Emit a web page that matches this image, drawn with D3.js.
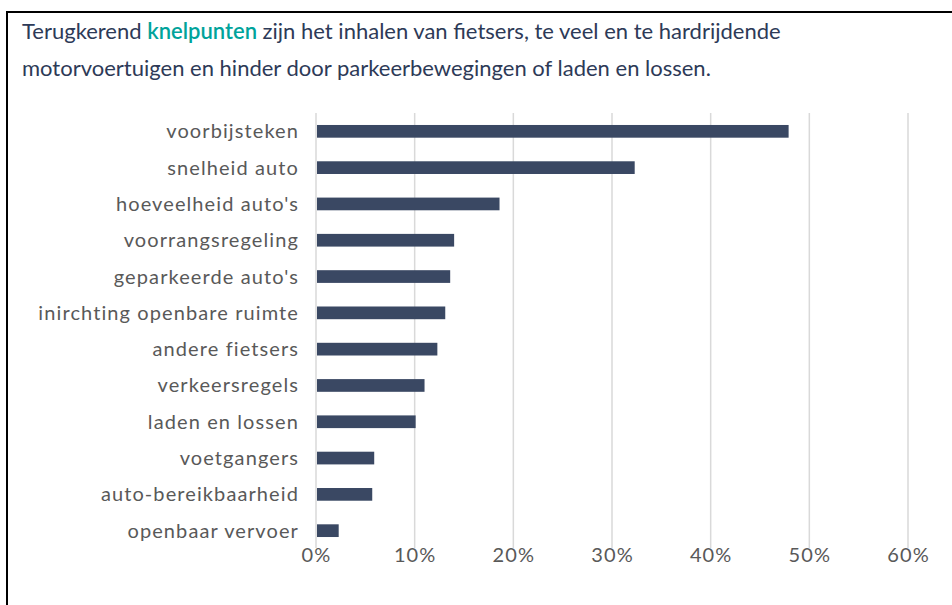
<!DOCTYPE html>
<html>
<head>
<meta charset="utf-8">
<script src="https://cdn.jsdelivr.net/npm/d3@7"></script>
<style>
  body { margin: 0; background: #fff; }
  svg { display: block; }
</style>
</head>
<body>
<svg id="chart" width="952" height="605"></svg>
<script>
const categories = [
  'voorbijsteken', 'snelheid auto', "hoeveelheid auto's", 'voorrangsregeling',
  "geparkeerde auto's", 'inirchting openbare ruimte', 'andere fietsers',
  'verkeersregels', 'laden en lossen', 'voetgangers', 'auto-bereikbaarheid',
  'openbaar vervoer'
];
const values = [0.479, 0.323, 0.186, 0.140, 0.136, 0.131, 0.123, 0.110, 0.101, 0.059, 0.057, 0.023];
const ticks = [0, 0.1, 0.2, 0.3, 0.4, 0.5, 0.6];

const svg = d3.select('#chart');

// frame: only top and left lines are visible
svg.append('line')
  .attr('x1', 6).attr('x2', 952).attr('y1', 12).attr('y2', 12)
  .attr('stroke', '#000').attr('stroke-width', 2);
svg.append('line')
  .attr('x1', 7).attr('x2', 7).attr('y1', 11).attr('y2', 605)
  .attr('stroke', '#000').attr('stroke-width', 2);

// title
const title = svg.append('text')
  .attr('font-family', 'Lato, sans-serif')
  .attr('font-size', 22)
  .attr('fill', '#2d3a57');
const l1 = title.append('tspan').attr('x', 22).attr('y', 39);
l1.append('tspan').text('Terugkerend ');
l1.append('tspan').attr('fill', '#00a39b').attr('font-weight', 600).text('knelpunten');
l1.append('tspan').text(' zijn het inhalen van fietsers, te veel en te hardrijdende');
title.append('tspan').attr('x', 22).attr('y', 76)
  .text('motorvoertuigen en hinder door parkeerbewegingen of laden en lossen.');

const x = d3.scaleLinear().domain([0, 0.6]).range([316, 908]);
const y = d3.scaleBand().domain(categories).range([113, 549]).paddingInner(0.65).paddingOuter(0.33);

// gridlines
svg.append('g')
  .selectAll('line')
  .data(ticks)
  .join('line')
  .attr('x1', d => x(d)).attr('x2', d => x(d))
  .attr('y1', 113).attr('y2', 548)
  .attr('stroke', '#d9d9d9').attr('stroke-width', 1.5);

// bars
svg.append('g')
  .selectAll('rect')
  .data(values)
  .join('rect')
  .attr('x', x(0) + 1)
  .attr('y', (d, i) => y(categories[i]))
  .attr('width', d => x(d) - x(0) - 1)
  .attr('height', y.bandwidth())
  .attr('fill', '#3a4863');

// category labels
svg.append('g')
  .selectAll('text')
  .data(categories)
  .join('text')
  .attr('x', 299)
  .attr('y', d => y(d) + y.bandwidth() / 2)
  .attr('dy', '0.35em')
  .attr('text-anchor', 'end')
  .attr('font-family', 'Lato, sans-serif')
  .attr('font-size', 20)
  .attr('letter-spacing', 1.1)
  .attr('fill', '#595959')
  .text(d => d);

// x axis labels
const xAxis = d3.axisBottom(x)
  .tickValues(ticks)
  .tickFormat(d3.format('.0%'))
  .tickSize(0)
  .tickPadding(0);
const gx = svg.append('g').attr('transform', 'translate(0,548)').call(xAxis);
gx.select('.domain').remove();
gx.selectAll('text')
  .attr('font-family', 'Lato, sans-serif')
  .attr('font-size', 20)
  .attr('letter-spacing', 1.1)
  .attr('fill', '#595959');
</script>
</body>
</html>
